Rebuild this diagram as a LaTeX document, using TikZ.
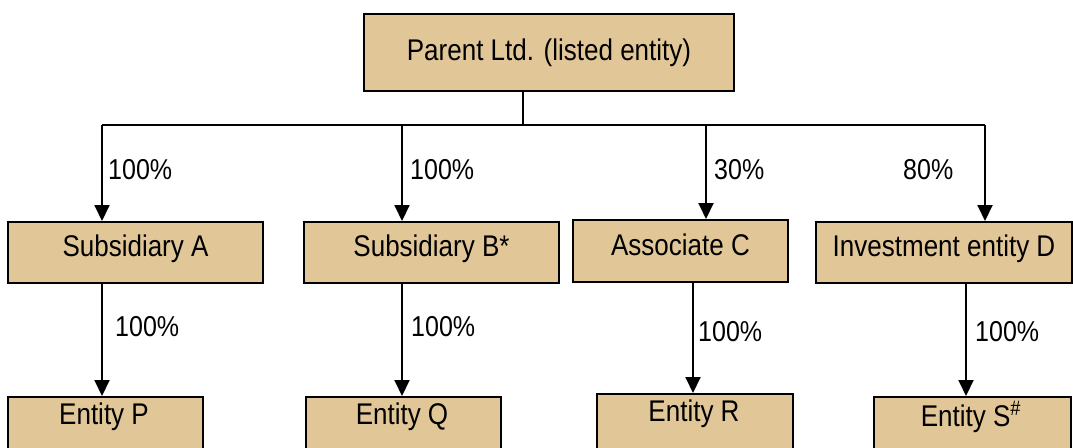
\documentclass[tikz,border=0pt]{standalone}
\usepackage{fontspec}
\setmainfont{Liberation Sans}
\usetikzlibrary{arrows.meta,calc}
\definecolor{boxfill}{HTML}{E1C797}
\newcommand{\tallt}[1]{\scalebox{1}[1.15]{#1}}
\tikzset{
  ent/.style={draw=black, line width=2pt, fill=boxfill, inner sep=0pt},
  boxtext/.style={font=\fontsize{26}{30}\selectfont, inner sep=0pt},
  pct/.style={font=\fontsize{25}{29}\selectfont, inner sep=0pt},
  conn/.style={line width=2pt, draw=black},
  arr/.style={conn, -{Triangle[width=15pt,length=16pt]}},
}
\begin{document}
\begin{tikzpicture}[x=1pt,y=-1pt]
\clip (0,0) rectangle (1073,447);
\fill[white] (0,0) rectangle (1073,447);
% boxes
\node[ent, minimum width=370, minimum height=77, anchor=north west] (parent) at (363,13) {};
\node[boxtext] (parentT) at (parent.center) {\tallt{Parent Ltd. (listed entity)}};
\node[ent, minimum width=255, minimum height=61, anchor=north west] (A) at (7,221) {};
\node[boxtext] (AT) at ($(A.center)+(0,-4)$) {\tallt{Subsidiary A}};
\node[ent, minimum width=255, minimum height=61, anchor=north west] (B) at (303,221) {};
\node[boxtext] (BT) at ($(B.center)+(0,-4)$) {\tallt{Subsidiary B*}};
\node[ent, minimum width=215, minimum height=62, anchor=north west] (C) at (572,219) {};
\node[boxtext] (CT) at ($(C.center)+(0,-6)$) {\tallt{Associate C}};
\node[ent, minimum width=256, minimum height=61, anchor=north west] (D) at (815,221) {};
\node[boxtext] (DT) at ($(D.center)+(0,-4)$) {\tallt{Investment entity D}};
\node[ent, minimum width=195, minimum height=70, anchor=north west] (P) at (7,396) {};
\node[boxtext] (PT) at (104,417) {\tallt{Entity P}};
\node[ent, minimum width=195, minimum height=70, anchor=north west] (Q) at (305,396) {};
\node[boxtext] (QT) at (402,417) {\tallt{Entity Q}};
\node[ent, minimum width=196, minimum height=70, anchor=north west] (R) at (596,393) {};
\node[boxtext] (RT) at (694,414) {\tallt{Entity R}};
\node[ent, minimum width=197, minimum height=70, anchor=north west] (S) at (873,396) {};
\node[boxtext] (ST) at (971,417) {\tallt{Entity S\textsuperscript{\#}}};
% bus
\coordinate (bus) at (523,125);
\coordinate (dA) at (102,125);
\coordinate (dB) at (402,125);
\coordinate (dC) at (706,125);
\coordinate (dD) at (985,125);
\draw[conn] (parent.south -| bus) -- (bus);
\draw[conn] (dA) -- (dD);
\draw[arr] (dA) -- (dA |- A.north);
\draw[arr] (dB) -- (dB |- B.north);
\draw[arr] (dC) -- (dC |- C.north);
\draw[arr] (dD) -- (dD |- D.north);
% second level
\coordinate (sA) at (102,0);
\coordinate (sB) at (402,0);
\coordinate (sC) at (693,0);
\coordinate (sD) at (966,0);
\draw[arr] (sA |- A.south) -- (sA |- P.north);
\draw[arr] (sB |- B.south) -- (sB |- Q.north);
\draw[arr] (sC |- C.south) -- (sC |- R.north);
\draw[arr] (sD |- D.south) -- (sD |- S.north);
% labels
\node[pct, anchor=west] (lA) at (108,170) {\tallt{100\%}};
\node[pct, anchor=west] (lB) at (410,170) {\tallt{100\%}};
\node[pct, anchor=west] (lC) at (714,170) {\tallt{30\%}};
\node[pct, anchor=west] (lD) at (903,170) {\tallt{80\%}};
\node[pct, anchor=west] (lP) at (115,327) {\tallt{100\%}};
\node[pct, anchor=west] (lQ) at (411,327) {\tallt{100\%}};
\node[pct, anchor=west] (lR) at (698,332) {\tallt{100\%}};
\node[pct, anchor=west] (lS) at (975,332) {\tallt{100\%}};
\end{tikzpicture}
\end{document}
